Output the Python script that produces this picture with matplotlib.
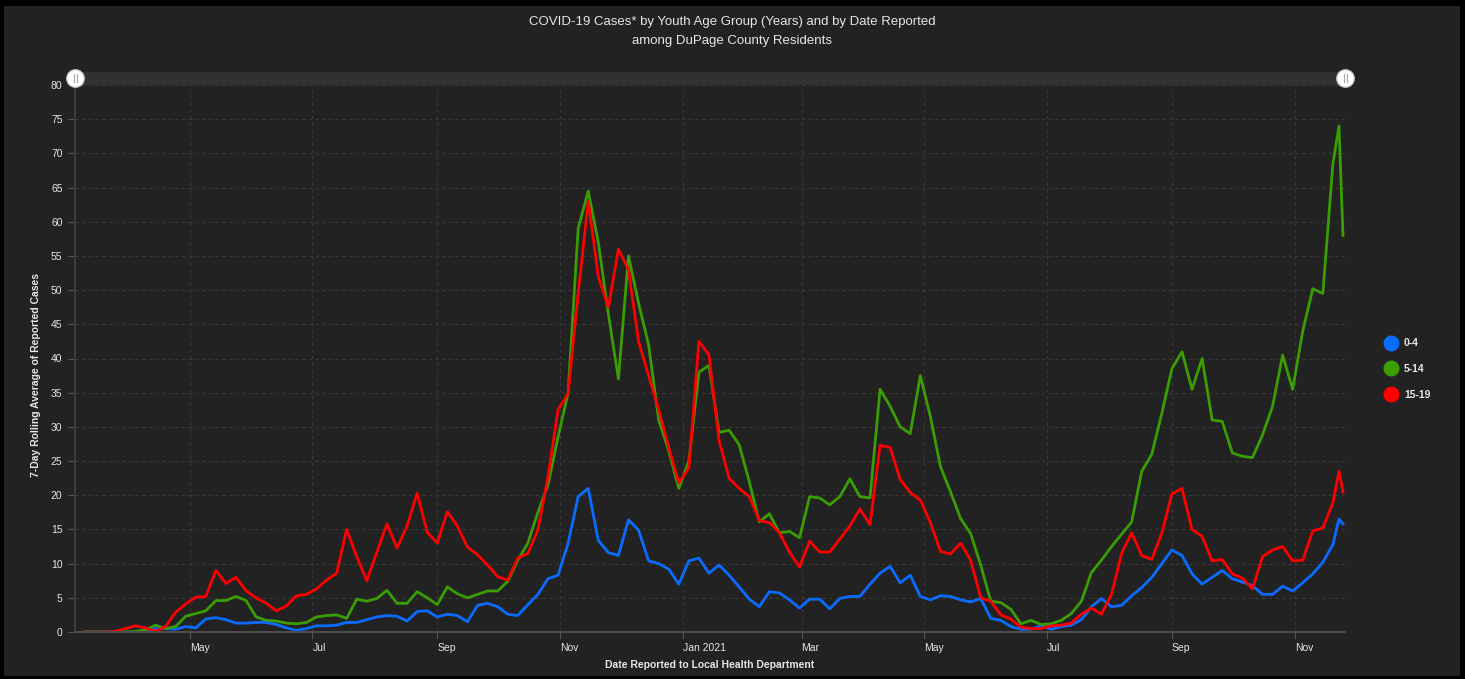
import pandas as pd
import matplotlib
matplotlib.use("Agg")
import matplotlib.pyplot as plt
from matplotlib.lines import Line2D
from matplotlib.patches import Rectangle

plt.rcParams['font.family'] = ['Liberation Sans', 'DejaVu Sans']

# dates: every 5 days from 2020-03-10, plus the last two reported days
dates = list(pd.date_range("2020-03-10", periods=125, freq="5D")) + \
    [pd.Timestamp("2021-11-23"), pd.Timestamp("2021-11-25")]

# 7-day rolling averages
age_0_4 = [0, 0, 0, 0, 0, 0, 0.3, 0.5, 0.5, 0.4,
           0.8, 0.6, 1.9, 2.1, 1.8, 1.3, 1.3, 1.4, 1.4, 1.1,
           0.6, 0.25, 0.5, 0.9, 0.9, 1.0, 1.4, 1.4, 1.8, 2.2,
           2.4, 2.3, 1.6, 3.0, 3.1, 2.2, 2.6, 2.4, 1.5, 3.9,
           4.2, 3.7, 2.6, 2.4, 4.0, 5.5, 7.8, 8.3, 13.0, 19.8,
           21.0, 13.4, 11.6, 11.2, 16.4, 14.9, 10.4, 10.0, 9.2, 7.0,
           10.4, 10.8, 8.6, 9.8, 8.3, 6.6, 4.8, 3.7, 5.9, 5.7,
           4.7, 3.5, 4.8, 4.8, 3.4, 4.9, 5.2, 5.2, 7.0, 8.6,
           9.6, 7.2, 8.3, 5.2, 4.7, 5.3, 5.2, 4.7, 4.4, 4.9,
           2.0, 1.7, 0.8, 0.4, 0.4, 0.9, 0.4, 0.8, 1.0, 1.8,
           3.7, 4.9, 3.7, 3.9, 5.3, 6.5, 8.0, 10.0, 12.0, 11.2,
           8.5, 7.0, 8.0, 9.0, 7.8, 7.3, 6.8, 5.5, 5.5, 6.7,
           6.0, 7.2, 8.5, 10.2, 12.8, 16.5, 15.8]

age_5_14 = [0, 0, 0, 0, 0, 0.1, 0.3, 1.0, 0.5, 0.8,
            2.3, 2.7, 3.1, 4.6, 4.6, 5.2, 4.6, 2.2, 1.7, 1.6,
            1.3, 1.2, 1.4, 2.2, 2.4, 2.5, 2.0, 4.8, 4.5, 4.9,
            6.1, 4.2, 4.2, 5.9, 5.0, 4.0, 6.6, 5.6, 5.0, 5.5,
            6.0, 6.0, 7.4, 10.5, 13.0, 17.5, 21.5, 28.5, 35.0, 59.0,
            64.5, 57.0, 46.5, 37.0, 55.0, 48.1, 42.0, 31.0, 26.5, 21.0,
            25.0, 38.0, 39.0, 29.2, 29.5, 27.4, 22.0, 16.1, 17.3, 14.5,
            14.7, 13.8, 19.8, 19.6, 18.6, 19.8, 22.4, 19.8, 19.6, 35.5,
            33.0, 30.0, 29.0, 37.5, 31.5, 24.2, 20.5, 16.6, 14.4, 9.8,
            4.5, 4.3, 3.3, 1.2, 1.7, 1.1, 1.2, 1.7, 2.7, 4.5,
            8.7, 10.5, 12.5, 14.3, 16.1, 23.5, 26.0, 32.0, 38.5, 41.0,
            35.5, 40.0, 31.0, 30.8, 26.2, 25.7, 25.5, 28.8, 33.0, 40.5,
            35.5, 44.0, 50.2, 49.5, 68.5, 74.0, 58.0]

age_15_19 = [0, 0, 0, 0.1, 0.5, 0.9, 0.6, 0.1, 0.8, 2.9,
             4.1, 5.1, 5.2, 9.0, 7.1, 8.0, 6.0, 5.0, 4.2, 3.1,
             3.8, 5.3, 5.5, 6.3, 7.6, 8.6, 15.0, 11.0, 7.5, 11.7,
             15.8, 12.3, 15.5, 20.3, 14.6, 13.0, 17.6, 15.5, 12.4, 11.3,
             9.8, 8.1, 7.6, 10.8, 11.5, 14.9, 22.7, 32.5, 34.9, 49.5,
             63.0, 52.0, 47.5, 56.0, 53.0, 42.5, 37.5, 32.5, 27.0, 21.8,
             24.0, 42.5, 40.5, 28.0, 22.5, 21.0, 19.8, 16.3, 16.0, 14.5,
             11.7, 9.5, 13.3, 11.7, 11.7, 13.6, 15.5, 18.0, 15.7, 27.3,
             27.0, 22.3, 20.4, 19.3, 16.0, 11.8, 11.4, 13.0, 10.5, 5.0,
             4.5, 2.5, 1.9, 0.7, 0.5, 0.5, 0.9, 1.0, 1.3, 2.6,
             3.5, 2.6, 5.5, 11.5, 14.5, 11.2, 10.6, 14.5, 20.2, 21.0,
             15.0, 14.0, 10.4, 10.6, 8.5, 7.9, 6.3, 11.0, 12.0, 12.5,
             10.4, 10.5, 14.8, 15.2, 18.9, 23.5, 20.5]

groups = ["0-4", "5-14", "15-19"]
colors = ["#0a6cff", "#3a9d04", "#ff0000"]

tick_dates = ["2020-05-01", "2020-07-01", "2020-09-01", "2020-11-01", "2021-01-01",
              "2021-03-01", "2021-05-01", "2021-07-01", "2021-09-01", "2021-11-01"]
tick_labels = ["May", "Jul", "Sep", "Nov", "Jan 2021", "Mar", "May", "Jul", "Sep", "Nov"]

bg = "#222222"
text_col = "#e6e6e6"

fig = plt.figure(figsize=(14.65, 6.79), dpi=100, facecolor="black")
# dark panel inside a thin black frame
fig.add_artist(Rectangle((4 / 1465, 3 / 679), 1 - 9 / 1465, 1 - 9 / 679,
                         transform=fig.transFigure, facecolor=bg, edgecolor="none", zorder=0))

ax = fig.add_axes([75 / 1465, 47 / 679, 1270 / 1465, 547 / 679])
ax.set_facecolor(bg)

series = [age_0_4, age_5_14, age_15_19]
for vals, name, c in zip(series, groups, colors):
    ax.plot(dates, vals, color=c, linewidth=2.0, label=name, solid_joinstyle="round")

ax.set_ylim(0, 80)
ax.set_yticks(range(0, 81, 5))
ax.set_xlim(pd.Timestamp("2020-03-05"), pd.Timestamp("2021-11-26"))
ax.set_xticks([pd.Timestamp(d) for d in tick_dates])
ax.set_xticklabels(tick_labels)
for lab in ax.get_xticklabels():
    lab.set_horizontalalignment("left")

ax.grid(True, color="#3a3a3a", linestyle=(0, (3, 3)), linewidth=0.8)
ax.tick_params(axis="both", colors="#555555", labelcolor=text_col, labelsize=7.5, length=5, width=0.8)
ax.tick_params(axis="x", pad=3)
ax.tick_params(axis="y", pad=4)

for side in ["top", "right"]:
    ax.spines[side].set_visible(False)
ax.spines["bottom"].set_color("#4d4d4d")
ax.spines["bottom"].set_linewidth(1.5)
ax.spines["left"].set_color("#3c3c3c")
ax.spines["left"].set_linewidth(1.5)

# scrollbar at top
ax.add_patch(Rectangle((0, 1.0), 1.0, 13 / 547, transform=ax.transAxes,
                       facecolor="#313131", edgecolor="none", clip_on=False))
for hx in [0, 1]:
    ax.plot([hx], [1 + 7 / 547], transform=ax.transAxes, marker="o", markersize=12.5,
            markerfacecolor="white", markeredgecolor="#cccccc", clip_on=False, zorder=5)
    for dx in [-1.5, 1.5]:
        ax.plot([hx + dx / 1270] * 2, [1 + 3 / 547, 1 + 11 / 547], transform=ax.transAxes,
                color="#aaaaaa", linewidth=0.9, clip_on=False, zorder=6)

fig.text(0.4997, 1 - 22 / 679, "COVID-19 Cases* by Youth Age Group (Years) and by Date Reported",
         ha="center", va="center", fontsize=9.5, color=text_col)
fig.text(0.4997, 1 - 41 / 679, "among DuPage County Residents",
         ha="center", va="center", fontsize=9.5, color=text_col)

fig.text(36 / 1465, 1 - 375 / 679, "7-Day Rolling Average of Reported Cases", rotation=90,
         ha="center", va="center", fontsize=7.5, fontweight="bold", color=text_col)
fig.text(710 / 1465, 1 - 665 / 679, "Date Reported to Local Health Department",
         ha="center", va="center", fontsize=7.5, fontweight="bold", color=text_col)

handles = [Line2D([], [], linestyle="none", marker="o", markersize=10.5, color=c) for c in colors]
leg = fig.legend(handles, groups, loc="center left", bbox_to_anchor=(1380 / 1465, 1 - 369 / 679),
                 frameon=False, fontsize=7.5, labelspacing=1.5, handletextpad=0.6,
                 handlelength=1.2, borderpad=0)
for t in leg.get_texts():
    t.set_color(text_col)
    t.set_fontweight("bold")

fig.savefig("out.png", dpi=100, facecolor=fig.get_facecolor())
